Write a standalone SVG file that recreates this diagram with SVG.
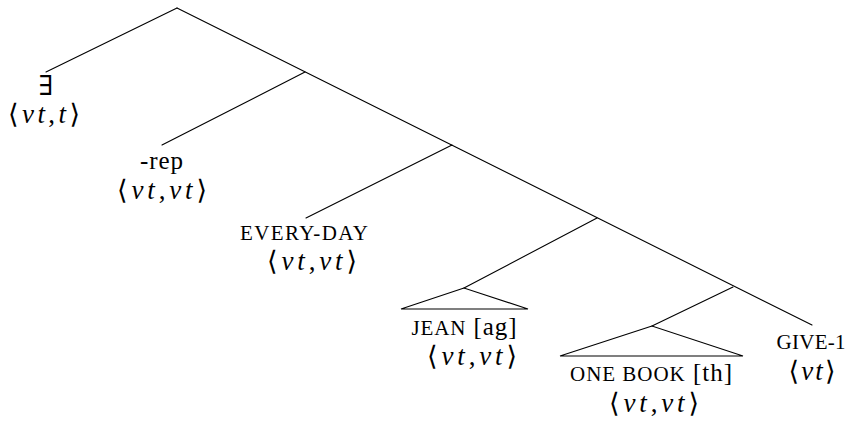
<svg xmlns="http://www.w3.org/2000/svg" width="848" height="421" viewBox="0 0 848 421">
<style>
.e{stroke:#000;stroke-width:1.1;fill:none;stroke-linecap:round}
.t{font-family:"Liberation Serif","DejaVu Serif",serif;font-size:25px;fill:#000;text-anchor:middle}
.sc{font-size:21px}
.m{font-family:"Liberation Serif","DejaVu Serif",serif;font-size:27px;fill:#000;text-anchor:middle}
.i{font-style:italic}
.tri{stroke:#000;stroke-width:1.1;fill:none;stroke-linejoin:miter}
</style>
<rect width="848" height="421" fill="#fff"/>
<g id="connectors">
<line class="e" x1="177" y1="8" x2="812" y2="325"/>
<line class="e" x1="177" y1="8" x2="46" y2="72"/>
<line class="e" x1="305" y1="72" x2="162" y2="145"/>
<line class="e" x1="452" y1="145" x2="306" y2="218"/>
<line class="e" x1="597" y1="218" x2="464" y2="288"/>
<line class="e" x1="733" y1="287" x2="652" y2="326"/>
</g>
<g id="n-exists">
<text class="t" x="46" y="95" style="font-size:27px">∃</text>
<text class="m" x="44" y="123" textLength="72" lengthAdjust="spacing">⟨<tspan class="i">vt</tspan>,<tspan class="i">t</tspan>⟩</text>
</g>
<g id="n-rep">
<text class="t" x="161.5" y="169" textLength="43" lengthAdjust="spacing">-rep</text>
<text class="m" x="162" y="199" textLength="90" lengthAdjust="spacing">⟨<tspan class="i">vt</tspan>,<tspan class="i">vt</tspan>⟩</text>
</g>
<g id="n-everyday">
<text class="t sc" x="304" y="240" textLength="128" lengthAdjust="spacing">EVERY-DAY</text>
<text class="m" x="312" y="270" textLength="90" lengthAdjust="spacing">⟨<tspan class="i">vt</tspan>,<tspan class="i">vt</tspan>⟩</text>
</g>
<g id="n-jean">
<polygon class="tri" points="464,288 401,309 528,309"/>
<text class="t" x="464" y="335" textLength="105" lengthAdjust="spacing"><tspan class="sc">JEAN</tspan> [ag]</text>
<text class="m" x="472" y="365" textLength="90" lengthAdjust="spacing">⟨<tspan class="i">vt</tspan>,<tspan class="i">vt</tspan>⟩</text>
</g>
<g id="n-onebook">
<polygon class="tri" points="652,326 560,356 743,356"/>
<text class="t" x="651" y="381" textLength="162" lengthAdjust="spacing"><tspan class="sc">ONE BOOK</tspan> [th]</text>
<text class="m" x="654" y="412" textLength="90" lengthAdjust="spacing">⟨<tspan class="i">vt</tspan>,<tspan class="i">vt</tspan>⟩</text>
</g>
<g id="n-give">
<text class="t sc" x="811" y="349" textLength="69" lengthAdjust="spacing">GIVE-1</text>
<text class="m" x="812" y="380" textLength="47" lengthAdjust="spacing">⟨<tspan class="i">vt</tspan>⟩</text>
</g>
</svg>
